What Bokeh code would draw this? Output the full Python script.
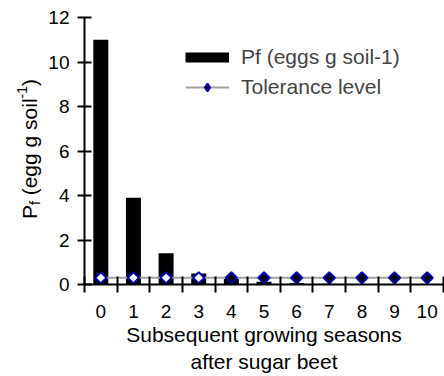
import math
from bokeh.plotting import figure
from bokeh.layouts import row
from bokeh.models import (Range1d, FixedTicker, Legend, LegendItem, Label,
                          ColumnDataSource)
from bokeh.embed import file_html
from bokeh.resources import INLINE

# ---- data ----
seasons = [0, 1, 2, 3, 4, 5, 6, 7, 8, 9, 10]
pf = [11.0, 3.9, 1.4, 0.5, 0.25, 0.12, 0.06, 0.03, 0.02, 0.02, 0.01]
tolerance = [0.3, 0.3, 0.3, 0.3, 0.3, 0.3, 0.3, 0.3, 0.3, 0.3, 0.3]
y_ticks = [0, 2, 4, 6, 8, 10, 12]
x_title = "Subsequent growing seasons\nafter sugar beet"
legend_pf = "Pf (eggs g soil-1)"
legend_tol = "Tolerance level"

FONT = "Liberation Sans"
H = 376
LW = 45            # width of the strip holding the y-axis title
W = 444 - LW

p = figure(width=W, height=H, output_backend="svg", toolbar_location=None,
           x_range=Range1d(-0.5, 10.5), y_range=Range1d(0, 12),
           min_border_left=39, min_border_right=1, min_border_top=17,
           min_border_bottom=92)
p.outline_line_color = None
p.grid.visible = False
p.background_fill_color = None
p.border_fill_color = "white"

p.vbar(x=seasons, top=pf, width=0.46, fill_color="black", line_color=None)

fills = ["white" if a > b else "black" for a, b in zip(pf, tolerance)]
src = ColumnDataSource(dict(x=seasons, y=tolerance, fc=fills))
p.line("x", "y", source=src, line_color="#a0a0a0", line_width=2)
p.scatter("x", "y", source=src, marker="square", angle=math.pi / 4, size=8,
          fill_color="fc", line_color="#0000b0", line_width=2)

# legend proxies (no visible data)
nan = float("nan")
empty = ColumnDataSource(dict(x=[nan], y=[nan]))
pr_bar = p.line("x", "y", source=empty, line_color="black", line_width=10,
                line_cap="butt")
pr_line = p.line("x", "y", source=empty, line_color="#a0a0a0", line_width=2)
pr_pt = p.scatter("x", "y", source=empty, marker="diamond", size=13,
                  fill_color="black", line_color="#0000b0", line_width=2)
leg = Legend(items=[LegendItem(label=legend_pf, renderers=[pr_bar]),
                    LegendItem(label=legend_tol, renderers=[pr_line, pr_pt])],
             location=(101, 185), glyph_width=44, glyph_height=20,
             label_height=20, spacing=6, padding=0, margin=0,
             label_standoff=12, border_line_color=None,
             background_fill_alpha=0, label_text_font=FONT,
             label_text_font_size="21px")
p.add_layout(leg)

# axes
xa = p.xaxis[0]
xa.ticker = FixedTicker(ticks=seasons,
                        minor_ticks=[s - 0.5 for s in seasons] + [10.5])
xa.major_tick_in = 0
xa.major_tick_out = 0
xa.minor_tick_in = 8
xa.minor_tick_out = 8
xa.minor_tick_line_width = 2
xa.minor_tick_line_color = "black"
xa.axis_line_width = 2
xa.major_label_standoff = 12
xa.major_label_text_font = FONT
xa.major_label_text_font_size = "19px"
xa.major_label_text_color = "black"
xa.axis_label = x_title
xa.axis_label_text_font = FONT
xa.axis_label_text_font_size = "21px"
xa.axis_label_text_font_style = "normal"
xa.axis_label_text_color = "black"
xa.axis_label_standoff = 2

ya = p.yaxis[0]
ya.ticker = FixedTicker(ticks=y_ticks, minor_ticks=[])
ya.major_tick_in = 7
ya.major_tick_out = 7
ya.major_tick_line_width = 2
ya.axis_line_width = 2
ya.major_label_standoff = 8
ya.major_label_text_font = FONT
ya.major_label_text_font_size = "19px"
ya.major_label_text_color = "black"

# strip with the rotated y-axis title (subscript f, superscript -1).
# Its frame is aligned with the main plot frame (bottom at page y 284.5).
side = figure(width=LW, height=H, output_backend="svg", toolbar_location=None,
              x_axis_type=None, y_axis_type=None, min_border=0,
              x_range=Range1d(0, 1), y_range=Range1d(0, 1))
side.outline_line_color = None
side.grid.visible = False
side.background_fill_color = "white"
side.border_fill_color = "white"

FRAME_BOTTOM = 284.5
base_x = 29
pos = FRAME_BOTTOM - 219
parts = [("P", 21, 0, 14.0), ("f", 14, 5, 3.9 + 5.8), ("(egg g soil", 21, 0, 96.9),
         ("-1", 14, -8, 12.4), (")", 21, 0, 7.0)]
for txt, fs, shift, adv in parts:
    side.add_layout(Label(x=base_x + shift, y=pos, x_units="screen",
                          y_units="screen", text=txt, angle=math.pi / 2,
                          text_font=FONT, text_font_size=f"{fs}px",
                          text_baseline="alphabetic", text_align="left",
                          text_color="black"))
    pos += adv

open("out.html", "w").write(file_html(row(side, p), INLINE))
